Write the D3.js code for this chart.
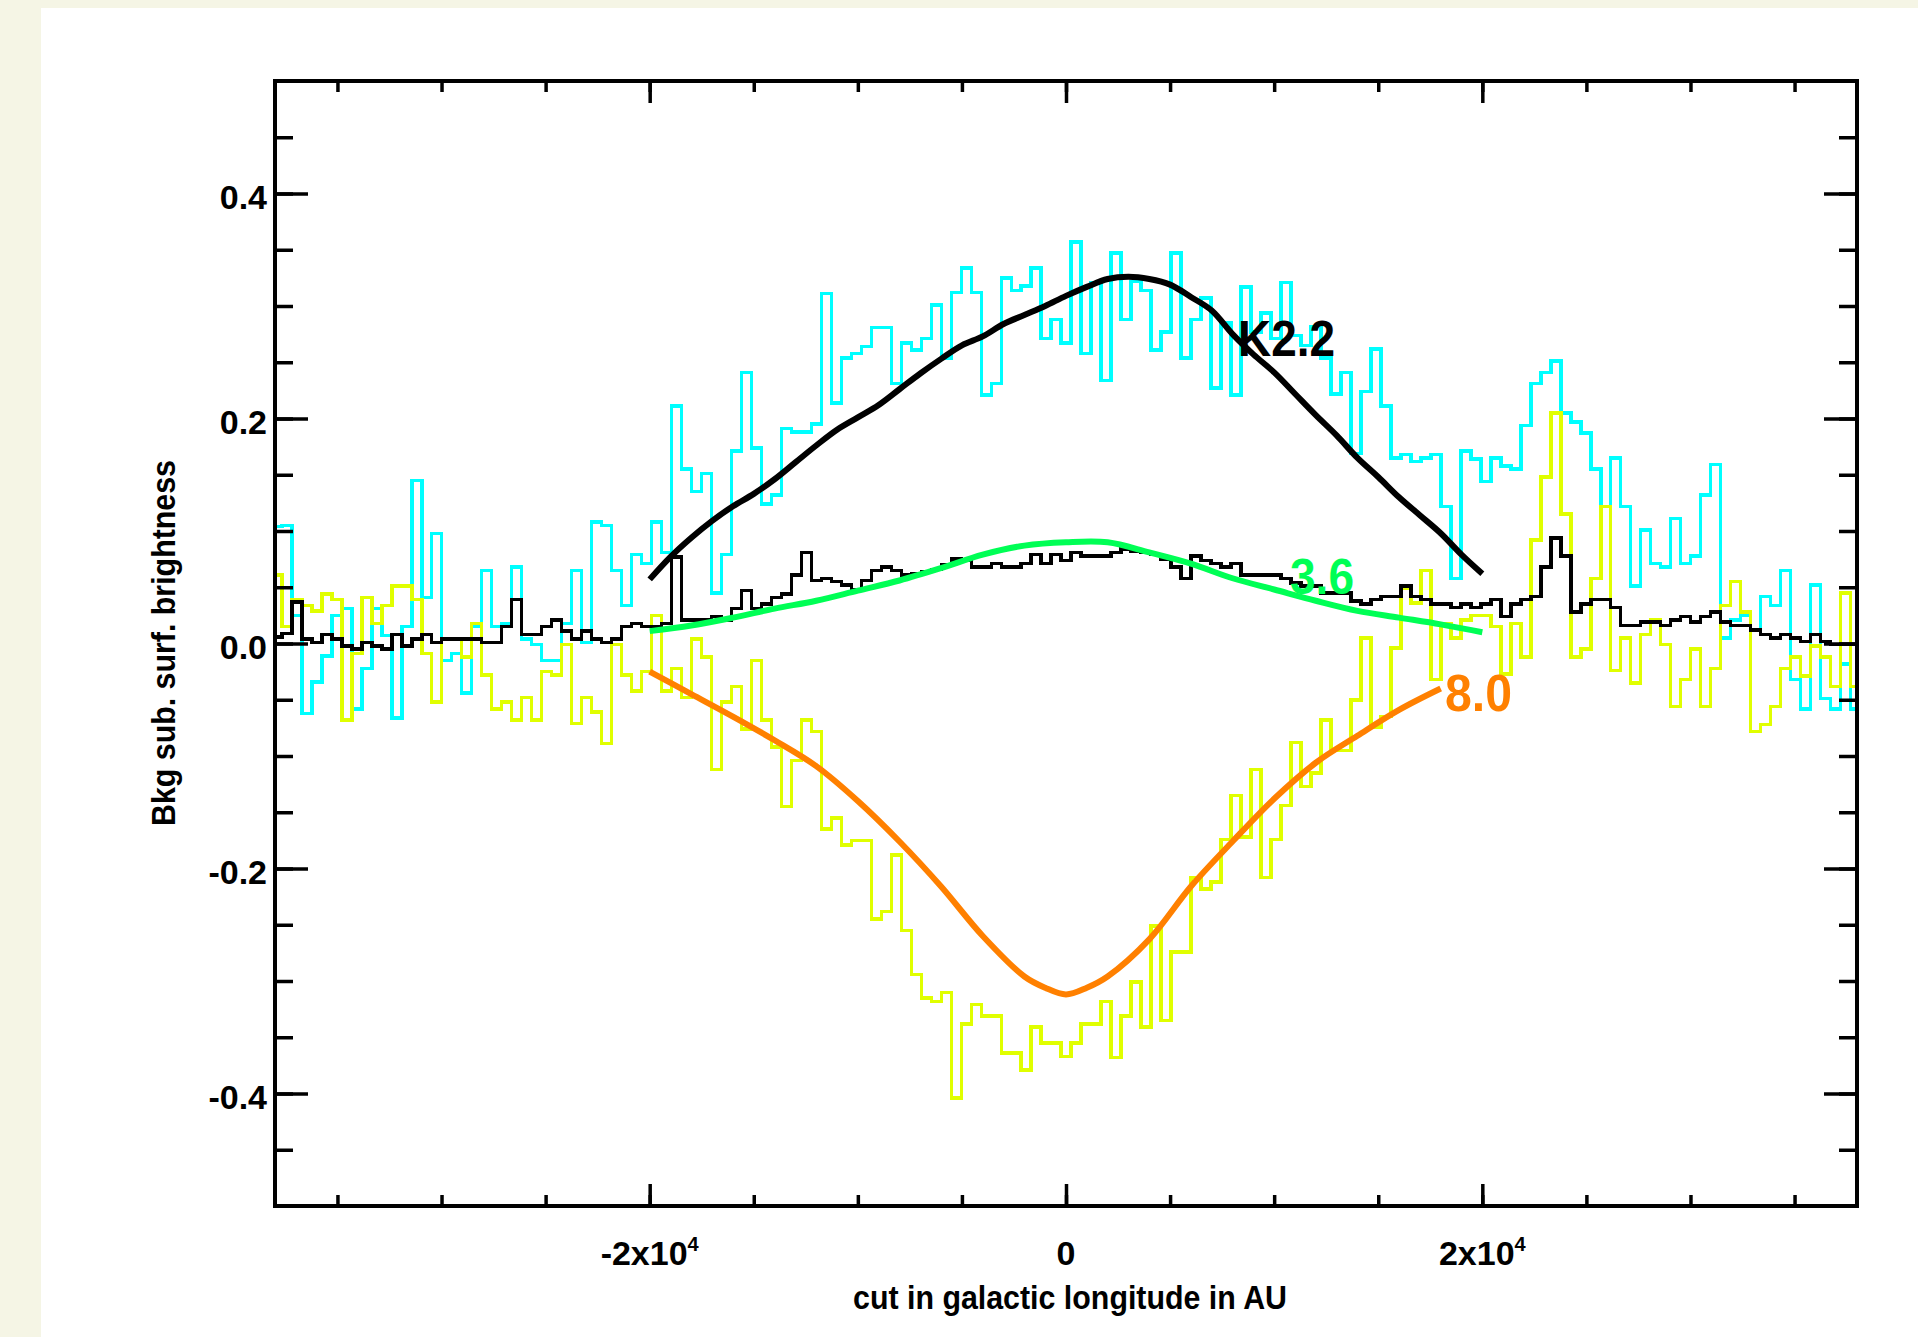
<!DOCTYPE html>
<html>
<head>
<meta charset="utf-8">
<script src="https://cdn.jsdelivr.net/npm/d3@7"></script>
<style>
  body { margin: 0; background: #f5f5e5; }
  svg { display: block; }
  text { font-family: "Liberation Sans", Arial, sans-serif; font-weight: bold; }
</style>
</head>
<body>
<svg id="chart"></svg>
<script>
// histogram bins along the cut (AU)
var binStart = -38150, binWidth = 480;

var cyanVals = [0.104,0.105,0.025,-0.062,-0.034,-0.011,0.025,0.031,-0.058,-0.022,
  0.031,0.007,-0.066,0.015,0.145,0.041,0.098,-0.015,-0.009,-0.044,
  0.015,0.065,0.015,0.018,0.068,0.004,-0.001,-0.015,-0.015,0.018,
  0.065,0.001,0.108,0.105,0.065,0.034,0.079,0.071,0.108,0.081,
  0.211,0.155,0.135,0.151,0.045,0.079,0.171,0.241,0.174,0.124,
  0.132,0.191,0.188,0.188,0.195,0.311,0.214,0.254,0.258,0.264,
  0.281,0.281,0.231,0.267,0.261,0.271,0.301,0.254,0.312,0.334,
  0.312,0.221,0.231,0.325,0.314,0.318,0.334,0.271,0.288,0.267,
  0.357,0.258,0.321,0.234,0.347,0.288,0.322,0.314,0.261,0.277,
  0.347,0.254,0.288,0.307,0.227,0.285,0.221,0.317,0.277,0.294,
  0.271,0.321,0.274,0.265,0.282,0.254,0.222,0.241,0.169,0.224,
  0.262,0.211,0.165,0.168,0.162,0.165,0.168,0.122,0.058,0.171,
  0.164,0.144,0.165,0.158,0.155,0.194,0.231,0.241,0.251,0.205,
  0.197,0.187,0.155,0.122,0.165,0.122,0.051,0.101,0.071,0.068,
  0.111,0.071,0.078,0.132,0.159,0.005,0.021,0.025,0.012,0.042,
  0.034,0.065,-0.032,-0.058,0.052,-0.049,-0.058,-0.018,-0.058];

var yellowVals = [0.061,0.015,0.039,0.034,0.029,0.044,0.039,-0.068,-0.009,0.041,
  0.018,0.034,0.051,0.051,0.039,-0.009,-0.052,0.004,0.004,-0.012,
  0.018,-0.028,-0.058,-0.052,-0.068,-0.048,-0.068,-0.025,-0.028,-0.001,
  -0.071,-0.048,-0.061,-0.089,-0.001,-0.028,-0.042,-0.025,0.025,-0.042,
  -0.022,-0.048,0.004,-0.012,-0.112,-0.052,-0.038,-0.076,-0.015,-0.068,
  -0.092,-0.145,-0.104,-0.068,-0.078,-0.165,-0.155,-0.179,-0.175,-0.175,
  -0.245,-0.238,-0.188,-0.255,-0.294,-0.315,-0.318,-0.310,-0.404,-0.338,
  -0.321,-0.331,-0.331,-0.364,-0.364,-0.379,-0.341,-0.355,-0.355,-0.367,
  -0.355,-0.338,-0.338,-0.318,-0.368,-0.331,-0.301,-0.341,-0.251,-0.335,
  -0.274,-0.274,-0.208,-0.218,-0.212,-0.174,-0.135,-0.172,-0.112,-0.208,
  -0.174,-0.144,-0.088,-0.127,-0.115,-0.068,-0.095,-0.095,-0.050,0.005,
  -0.074,-0.065,-0.004,0.049,0.036,0.065,-0.032,0.018,0.005,0.021,
  0.025,0.025,0.015,-0.027,0.018,-0.012,0.092,0.148,0.205,0.115,
  -0.012,-0.005,0.058,0.122,-0.024,0.005,-0.035,0.008,0.021,-0.001,
  -0.056,-0.032,-0.005,-0.056,-0.022,0.034,0.055,0.028,-0.078,-0.072,
  -0.056,-0.022,-0.012,-0.029,-0.002,-0.012,-0.038,0.045,-0.038];

var blackVals = [0.006,0.009,0.037,0.004,0.001,0.008,0.004,-0.002,-0.005,0.001,
  -0.002,-0.005,0.008,-0.002,0.004,0.008,0.001,0.004,0.004,0.004,
  0.004,0.001,0.001,0.015,0.039,0.008,0.008,0.015,0.021,0.011,
  0.004,0.011,0.004,0.001,0.004,0.015,0.018,0.015,0.015,0.018,
  0.077,0.021,0.021,0.021,0.024,0.021,0.031,0.047,0.031,0.035,
  0.041,0.044,0.061,0.081,0.056,0.058,0.055,0.052,0.048,0.056,
  0.065,0.068,0.065,0.061,0.062,0.064,0.066,0.070,0.075,0.074,
  0.068,0.068,0.071,0.068,0.068,0.071,0.079,0.071,0.079,0.074,
  0.081,0.078,0.078,0.078,0.081,0.084,0.082,0.081,0.079,0.075,
  0.068,0.058,0.078,0.074,0.071,0.068,0.071,0.061,0.061,0.061,
  0.061,0.058,0.054,0.051,0.051,0.045,0.045,0.045,0.038,0.035,
  0.039,0.042,0.042,0.051,0.042,0.039,0.035,0.035,0.032,0.035,
  0.032,0.035,0.039,0.024,0.035,0.039,0.042,0.068,0.094,0.078,
  0.028,0.035,0.039,0.039,0.032,0.016,0.016,0.019,0.019,0.016,
  0.021,0.024,0.019,0.024,0.028,0.019,0.016,0.016,0.012,0.008,
  0.005,0.008,0.005,0.002,0.008,0.002,-0.001,-0.001,-0.001];

// model curves
var k22X = [-20000,-19000,-18000,-17000,-16000,-15000,-14000,-13000,-12000,-11000,
  -10000,-9000,-8000,-7000,-6000,-5000,-4000,-3000,-2000,-1000,
  0,1000,2000,3000,4000,5000,6000,7000,8000,9000,
  10000,11000,12000,13000,14000,15000,16000,17000,18000,19000,20000];
var k22Y = [0.057,0.077,0.094,0.109,0.122,0.133,0.146,0.161,0.176,0.190,
  0.201,0.212,0.226,0.240,0.253,0.265,0.273,0.284,0.292,0.300,
  0.309,0.317,0.324,0.326,0.324,0.319,0.308,0.296,0.275,0.257,
  0.241,0.222,0.203,0.185,0.165,0.148,0.130,0.114,0.098,0.079,0.062];

var i36X = [-20000,-18000,-16000,-14000,-12000,-10000,-8000,-6000,-4000,-2000,
  0,2000,4000,6000,8000,10000,12000,14000,16000,18000,20000];
var i36Y = [0.011,0.016,0.023,0.031,0.038,0.047,0.056,0.067,0.079,0.087,
  0.090,0.090,0.081,0.071,0.058,0.048,0.038,0.029,0.023,0.017,0.010];

var i80X = [-20000,-18000,-16000,-14000,-12000,-10000,-8000,-6000,-4000,-2000,
  -1000,0,1000,2000,4000,6000,8000,10000,12000,14000,16000,18000];
var i80Y = [-0.025,-0.045,-0.065,-0.086,-0.109,-0.140,-0.176,-0.216,-0.260,-0.296,
  -0.306,-0.312,-0.306,-0.296,-0.263,-0.216,-0.176,-0.138,-0.106,-0.082,-0.059,-0.040];

var yMajor = [-0.4,-0.2,0,0.2,0.4];
var yLabels = ["-0.4","-0.2","0.0","0.2","0.4"];
var xMajor = [-20000,0,20000];
var xLabels = [["-2x10","4"],["0",""],["2x10","4"]];

var W = 1918, H = 1337;
var pL = 275, pR = 1857, pT = 81, pB = 1206;

var svg = d3.select('#chart').attr('width', W).attr('height', H);
svg.append('rect').attr('x', 41).attr('y', 8).attr('width', W - 41).attr('height', H - 8).attr('fill', '#fff');

var x = d3.scaleLinear().domain([-38000, 38000]).range([pL, pR]);
var y = d3.scaleLinear().domain([-0.5, 0.5]).range([pB, pT]);

svg.append('clipPath').attr('id', 'clip')
  .append('rect').attr('x', pL).attr('y', pT).attr('width', pR - pL).attr('height', pB - pT);

var plot = svg.append('g').attr('clip-path', 'url(#clip)');

function histPoints(vals) {
  var pts = vals.map(function(v, i) { return [binStart + i * binWidth, v]; });
  pts.push([binStart + vals.length * binWidth, vals[vals.length - 1]]);
  return pts;
}
var stepLine = d3.line()
  .x(function(d) { return x(d[0]); })
  .y(function(d) { return y(d[1]); })
  .curve(d3.curveStepAfter);

[[cyanVals, '#00ffff'], [yellowVals, '#e0ff00'], [blackVals, '#000']].forEach(function(s) {
  plot.append('path')
    .datum(histPoints(s[0]))
    .attr('d', stepLine)
    .attr('fill', 'none')
    .attr('stroke', s[1])
    .attr('stroke-width', 3.5)
    .attr('shape-rendering', 'crispEdges');
});

var smooth = d3.line()
  .x(function(d) { return x(d[0]); })
  .y(function(d) { return y(d[1]); })
  .curve(d3.curveCatmullRom);

function zip(a, b) { return a.map(function(v, i) { return [v, b[i]]; }); }

plot.append('path').datum(zip(i36X, i36Y)).attr('d', smooth)
  .attr('fill', 'none').attr('stroke', '#00ff55').attr('stroke-width', 6);
plot.append('path').datum(zip(i80X, i80Y)).attr('d', smooth)
  .attr('fill', 'none').attr('stroke', '#ff8000').attr('stroke-width', 6);
plot.append('path').datum(zip(k22X, k22Y)).attr('d', smooth)
  .attr('fill', 'none').attr('stroke', '#000').attr('stroke-width', 6);

// curve labels
svg.append('text').attr('x', 1238).attr('y', 356).attr('font-size', 50)
  .attr('textLength', 97).attr('lengthAdjust', 'spacingAndGlyphs').attr('fill', '#000').text('K2.2');
svg.append('text').attr('x', 1290).attr('y', 594).attr('font-size', 50)
  .attr('textLength', 64).attr('lengthAdjust', 'spacingAndGlyphs').attr('fill', '#00ff55').text('3.6');
svg.append('text').attr('x', 1445).attr('y', 711).attr('font-size', 52)
  .attr('textLength', 67).attr('lengthAdjust', 'spacingAndGlyphs').attr('fill', '#ff8000').text('8.0');

// axes: ticks on all four sides
var tw = 3.5;
function ticks(axisFn, scale, vals, size, tx, ty) {
  var g = svg.append('g').attr('transform', 'translate(' + tx + ',' + ty + ')')
    .call(axisFn(scale).tickValues(vals).tickSize(size).tickFormat(''));
  g.select('.domain').remove();
  g.selectAll('line').attr('stroke', '#000').attr('stroke-width', tw);
}
var yMinor = d3.range(-0.45, 0.46, 0.05);
var xMinor = d3.range(-35000, 35001, 5000);
ticks(d3.axisRight, y, yMinor, 18, pL, 0);
ticks(d3.axisRight, y, yMajor, 33, pL, 0);
ticks(d3.axisLeft, y, yMinor, 18, pR, 0);
ticks(d3.axisLeft, y, yMajor, 33, pR, 0);
ticks(d3.axisTop, x, xMinor, 11, 0, pB);
ticks(d3.axisTop, x, xMajor, 22, 0, pB);
ticks(d3.axisBottom, x, xMinor, 11, 0, pT);
ticks(d3.axisBottom, x, xMajor, 22, 0, pT);

svg.append('rect').attr('x', pL).attr('y', pT)
  .attr('width', pR - pL).attr('height', pB - pT)
  .attr('fill', 'none').attr('stroke', '#000').attr('stroke-width', 4);

// tick labels
svg.selectAll('.ylab').data(yMajor).enter().append('text')
  .attr('x', 267).attr('y', function(d) { return y(d) + 15; })
  .attr('text-anchor', 'end').attr('font-size', 34)
  .text(function(d, i) { return yLabels[i]; });

xMajor.forEach(function(v, i) {
  var t = svg.append('text').attr('x', x(v)).attr('y', 1265)
    .attr('text-anchor', 'middle').attr('font-size', 34);
  t.append('tspan').text(xLabels[i][0]);
  if (xLabels[i][1]) t.append('tspan').attr('dy', -14).attr('font-size', 20).text(xLabels[i][1]);
});

svg.append('text').attr('x', 1070).attr('y', 1309).attr('text-anchor', 'middle')
  .attr('font-size', 34).attr('textLength', 434).attr('lengthAdjust', 'spacingAndGlyphs')
  .text('cut in galactic longitude in AU');

svg.append('text').attr('transform', 'translate(175,643) rotate(-90)')
  .attr('text-anchor', 'middle').attr('font-size', 34)
  .attr('textLength', 366).attr('lengthAdjust', 'spacingAndGlyphs')
  .text('Bkg sub. surf. brightness');
</script>
</body>
</html>
